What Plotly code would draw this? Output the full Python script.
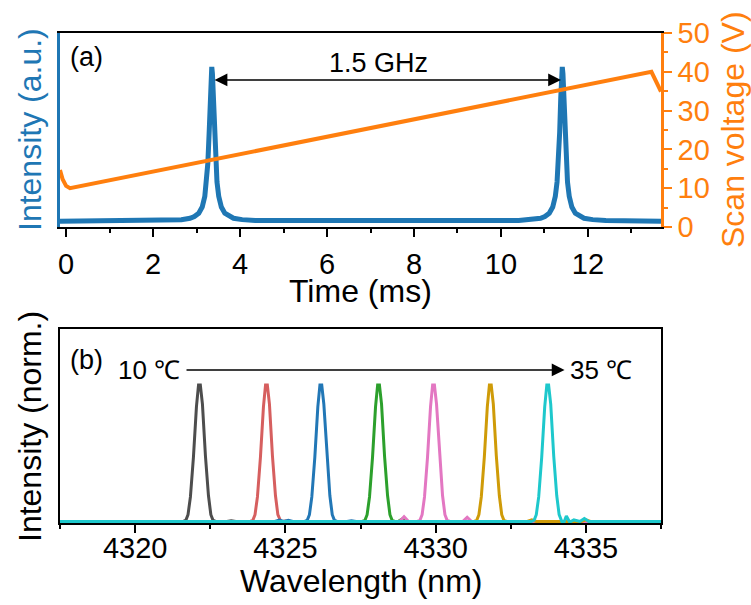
import plotly.graph_objects as go

# ---------------- (a) cavity transmission vs. time ----------------
# baseline level of the transmission signal and the two resonance centres (ms)
BASELINE = 0.03
RESONANCE_TIMES = [3.35, 11.41]
TIME_START, TIME_END = -0.14, 13.68

# resonance line shape: offset from centre (ms) and intensity (a.u.)
RES_OFFSETS = [-1.0, -0.7, -0.5, -0.4, -0.3, -0.22, -0.16, -0.12, -0.09, -0.06, -0.035, -0.015,
               0.0, 0.015, 0.035, 0.06, 0.09, 0.12, 0.16, 0.22, 0.3, 0.4, 0.5, 0.7, 1.0]
RES_VALUES = [0.034, 0.038, 0.045, 0.054, 0.071, 0.103, 0.158, 0.232, 0.33, 0.488, 0.666, 0.79,
              0.825, 0.79, 0.666, 0.488, 0.33, 0.232, 0.158, 0.103, 0.071, 0.054, 0.045, 0.038, 0.034]

# piezo scan voltage (V) at key times (ms)
SCAN_TIME = [-0.14, -0.08, 0.0, 0.09, 13.46, 13.68]
SCAN_VOLT = [14.7, 12.3, 10.6, 10.0, 40.0, 34.9]

TIME_TICKS = [0, 2, 4, 6, 8, 10, 12]
VOLT_TICKS = [0, 10, 20, 30, 40, 50]
SPACING_LABEL = "1.5 GHz"

# ---------------- (b) emission spectra vs. temperature ----------------
WL_START, WL_END = 4317.5, 4337.5
PEAK_WAVELENGTHS = [4322.14, 4324.37, 4326.18, 4328.10, 4329.93, 4331.82, 4333.73]
PEAK_COLORS = ["#4d4d4d", "#d65f5f", "#2277b6", "#2ca02c", "#e377c2", "#cf9b08", "#1ec8cc"]

# normalised spectral line shape: offset (nm) and intensity
LINE_OFFSETS = [-0.55, -0.45, -0.38, -0.3, -0.2, -0.1, -0.03, 0.03, 0.1, 0.2, 0.3, 0.38, 0.45, 0.55]
LINE_VALUES = [0.0, 0.01, 0.05, 0.18, 0.47, 0.84, 1.0, 1.0, 0.86, 0.48, 0.19, 0.05, 0.01, 0.0]

# weak side features per spectrum: (wavelength nm, intensity)
SIDE_FEATURES = [
    [(4323.2, 0.006)],
    [(4325.0, 0.004)],
    [(4324.8, 0.01), (4325.1, 0.008), (4327.2, 0.006)],
    [(4328.9, 0.02)],
    [(4328.95, 0.035), (4331.05, 0.03)],
    [(4333.2, 0.012), (4335.0, 0.012)],
    [(4334.35, 0.04), (4334.6, 0.012), (4334.95, 0.022)],
]

WL_TICKS = [4320, 4325, 4330, 4335]
T_LOW_LABEL, T_HIGH_LABEL = "10 ℃", "35 ℃"

FONT = "Arial, Liberation Sans, sans-serif"
BLUE, ORANGE = "#1f77b4", "#ff7f0e"

# ---- assemble the transmission trace from baseline + resonances ----
t_vals, i_vals = [TIME_START], [BASELINE]
for tc in RESONANCE_TIMES:
    for off, val in zip(RES_OFFSETS, RES_VALUES):
        t_vals.append(tc + off)
        i_vals.append(val)
t_vals.append(TIME_END)
i_vals.append(BASELINE)

fig = go.Figure()
fig.add_trace(go.Scatter(x=t_vals, y=i_vals, mode="lines",
                         line=dict(color=BLUE, width=5), xaxis="x", yaxis="y",
                         showlegend=False))
fig.add_trace(go.Scatter(x=SCAN_TIME, y=SCAN_VOLT, mode="lines",
                         line=dict(color=ORANGE, width=4), xaxis="x", yaxis="y2",
                         showlegend=False))

# ---- spectra ----
for centre, color, extras in zip(PEAK_WAVELENGTHS, PEAK_COLORS, SIDE_FEATURES):
    pts = [(WL_START, 0.0), (WL_END, 0.0)]
    pts += [(centre + o, v) for o, v in zip(LINE_OFFSETS, LINE_VALUES)]
    for wl, v in extras:
        pts += [(wl - 0.15, 0.0), (wl, v), (wl + 0.15, 0.0)]
    pts.sort()
    fig.add_trace(go.Scatter(x=[p[0] for p in pts], y=[p[1] for p in pts], mode="lines",
                             line=dict(color=color, width=3), xaxis="x2", yaxis="y3",
                             showlegend=False))

W, H = 751, 605
xdom = [60 / W, 661 / W]
top_dom = [1 - 227 / H, 1 - 33 / H]
bot_dom = [1 - 523 / H, 1 - 329 / H]

tick_font = dict(family=FONT, size=29, color="black")
fig.update_layout(
    width=W, height=H, margin=dict(l=0, r=0, t=0, b=0, autoexpand=False),
    paper_bgcolor="white", plot_bgcolor="white",
    font=dict(family=FONT, color="black"),
    xaxis=dict(domain=xdom, anchor="y", range=[TIME_START, TIME_END], automargin=False,
               tickvals=TIME_TICKS, ticks="outside", ticklen=8, tickwidth=2,
               tickcolor="black", tickfont=tick_font, ticklabelstandoff=2,
               minor=dict(dtick=1, ticks="outside", ticklen=4, tickwidth=2, tickcolor="black"),
               showline=True, linecolor="black", linewidth=2, mirror=True,
               showgrid=False, zeroline=False),
    yaxis=dict(domain=top_dom, anchor="x", range=[0, 1], showticklabels=False, automargin=False,
               ticks="", showline=True, linecolor=BLUE, linewidth=2.5,
               showgrid=False, zeroline=False),
    yaxis2=dict(overlaying="y", side="right", anchor="x", range=[0, 50], automargin=False,
                tickvals=VOLT_TICKS, ticks="outside", ticklen=8, tickwidth=2,
                tickcolor=ORANGE, tickfont=dict(family=FONT, size=29, color=ORANGE),
                minor=dict(dtick=5, ticks="outside", ticklen=4, tickwidth=2, tickcolor=ORANGE),
                showline=True, linecolor=ORANGE, linewidth=2.5,
                showgrid=False, zeroline=False),
    xaxis2=dict(domain=xdom, anchor="y3", range=[WL_START, WL_END], automargin=False,
                tickvals=WL_TICKS, ticks="outside", ticklen=8, tickwidth=2,
                tickcolor="black", tickfont=tick_font, ticklabelstandoff=-10,
                minor=dict(dtick=2.5, ticks="outside", ticklen=4, tickwidth=2, tickcolor="black"),
                showline=True, linecolor="black", linewidth=2, mirror=True,
                showgrid=False, zeroline=False),
    yaxis3=dict(domain=bot_dom, anchor="x2", range=[-0.011, 1.41], showticklabels=False,
                automargin=False, ticks="", showline=True, linecolor="black", linewidth=2,
                mirror=True, showgrid=False, zeroline=False),
)

title_font = dict(family=FONT, size=32)
ann = [
    # axis titles
    dict(text="Intensity (a.u.)", x=30 / W, y=1 - 130 / H, textangle=-90,
         font=dict(title_font, color=BLUE)),
    dict(text="Scan voltage (V)", x=733 / W, y=1 - 130 / H, textangle=-90,
         font=dict(title_font, color=ORANGE)),
    dict(text="Time (ms)", x=360 / W, y=1 - 291 / H, font=title_font),
    dict(text="Intensity (norm.)", x=30 / W, y=1 - 427 / H, textangle=-90, font=title_font),
    dict(text="Wavelength (nm)", x=361 / W, y=1 - 581 / H, font=title_font),
]
for a in ann:
    a.update(xref="paper", yref="paper", showarrow=False, xanchor="center", yanchor="middle")

panel_labels = [
    dict(text="(a)", xref="x domain", yref="y domain", x=0.014, y=0.875,
         xanchor="left", yanchor="middle", showarrow=False, font=dict(family=FONT, size=27)),
    dict(text="(b)", xref="x2 domain", yref="y3 domain", x=0.014, y=0.84,
         xanchor="left", yanchor="middle", showarrow=False, font=dict(family=FONT, size=27)),
]

# mode spacing arrow between the two resonances
arrows = [
    dict(x=RESONANCE_TIMES[1] - 0.03, y=0.758, ax=RESONANCE_TIMES[0] + 0.03, ay=0.758,
         xref="x", yref="y", axref="x", ayref="y", text="", showarrow=True,
         arrowhead=2, arrowside="end+start", arrowsize=1.6, arrowwidth=1.6, arrowcolor="black"),
    dict(text=SPACING_LABEL, x=sum(RESONANCE_TIMES) / 2 - 0.2, y=0.845, xref="x", yref="y",
         showarrow=False, font=dict(family=FONT, size=27)),
    # temperature sweep arrow
    dict(x=4334.29, y=1.11, ax=4321.66, ay=1.11, xref="x2", yref="y3", axref="x2", ayref="y3",
         text="", showarrow=True, arrowhead=2, arrowsize=1.6, arrowwidth=1.6, arrowcolor="black"),
    dict(text=T_LOW_LABEL, x=4321.55, y=1.11, xref="x2", yref="y3", xanchor="right",
         yanchor="middle", showarrow=False, font=dict(family=FONT, size=26)),
    dict(text=T_HIGH_LABEL, x=4334.4, y=1.11, xref="x2", yref="y3", xanchor="left",
         yanchor="middle", showarrow=False, font=dict(family=FONT, size=26)),
]

fig.update_layout(annotations=ann + panel_labels + arrows)
fig.write_html("out.html")
